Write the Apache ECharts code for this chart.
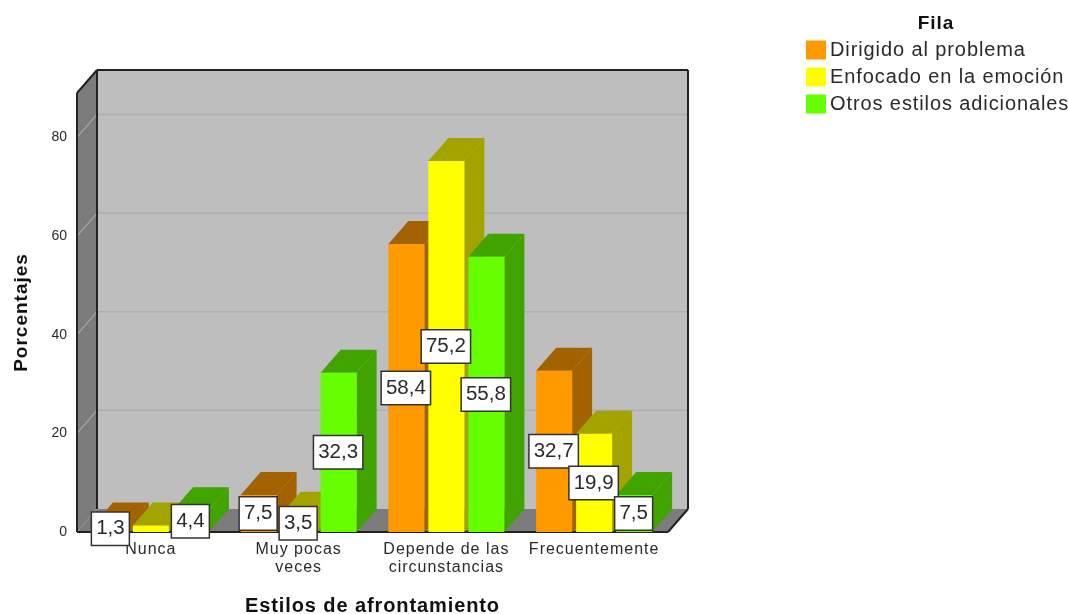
<!DOCTYPE html>
<html>
<head>
<meta charset="utf-8">
<script src="https://cdn.jsdelivr.net/npm/echarts@6/dist/echarts.min.js"></script>
<style>html,body{margin:0;padding:0;background:#fff}#c{width:1068px;height:614px}</style>
</head>
<body>
<div id="c"></div>
<script>
const categories = ['Nunca', 'Muy pocas\nveces', 'Depende de las\ncircunstancias', 'Frecuentemente'];
const dirigido = [1.3, 7.5, 58.4, 32.7];
const enfocado = [1.3, 3.5, 75.2, 19.9];
const otros = [4.4, 32.3, 55.8, 7.5];
const seriesNames = ['Dirigido al problema', 'Enfocado en la emoción', 'Otros estilos adicionales'];
const yTicks = [0, 20, 40, 60, 80];
// The reference leaves this one value label out (series index, category index).
const hiddenLabels = [[1, 0]];

// The reference's larger text is slightly letter-spaced; the canvas can do that natively.
const spacingByFontSize = { 16: '1px', 19: '1px', 20: '0.9px' };
const nativeFillText = CanvasRenderingContext2D.prototype.fillText;
CanvasRenderingContext2D.prototype.fillText = function () {
  const m = /([\d.]+)px/.exec(this.font);
  this.letterSpacing = (m && spacingByFontSize[m[1]]) || '0px';
  return nativeFillText.apply(this, arguments);
};

const FONT = '"Liberation Sans", Arial, sans-serif';
const DX = 20, DY = -23, BAR_W = 36, BAR_STEP = 40;
const colors = ['#FF9900', '#FFFF00', '#66FF00'];
const sides = ['#A36200', '#A3A300', '#41A300'];
const values = [dirigido, enfocado, otros];

function poly(points, fill) {
  return { type: 'polygon', shape: { points }, style: { fill, stroke: null } };
}
function line(a, b, stroke, w) {
  return { type: 'line', shape: { x1: a[0], y1: a[1], x2: b[0], y2: b[1] }, style: { stroke, lineWidth: w } };
}

function renderFrame(params, api) {
  const cs = params.coordSys;
  const L = cs.x, R = cs.x + cs.width, B = cs.y + cs.height, T = cs.y;
  const kids = [
    poly([[L + DX, T + DY], [R + DX, T + DY], [R + DX, B + DY], [L + DX, B + DY]], '#BEBEBE'),
    poly([[L, T], [L + DX, T + DY], [L + DX, B + DY], [L, B]], '#7C7C7C'),
    poly([[L, B], [L + DX, B + DY], [R + DX, B + DY], [R, B]], '#7C7C7C')
  ];
  yTicks.forEach(function (t) {
    const y = api.coord([0, t])[1];
    if (t === 0) return;
    kids.push(line([L + DX, y + DY], [R + DX, y + DY], '#ADADAD', 1.5));
    kids.push(line([L, y], [L + DX, y + DY], '#A6A6A6', 1.2));
  });
  const K = '#222222';
  kids.push(line([L, T], [L, B], K, 2));
  kids.push(line([L, T], [L + DX, T + DY], K, 2));
  kids.push(line([L + DX, T + DY], [R + DX, T + DY], K, 2));
  kids.push(line([L + DX, T + DY], [L + DX, B + DY], K, 2));
  kids.push(line([R + DX, T + DY], [R + DX, B + DY], K, 2));
  kids.push(line([L, B], [R, B], K, 2));
  kids.push(line([R, B], [R + DX, B + DY], K, 2));
  return { type: 'group', children: kids };
}

function barRenderer(si) {
  return function (params, api) {
    const idx = api.value(0), val = api.value(1);
    const top = api.coord([idx, val]);
    const base = api.coord([idx, 0]);
    const x0 = top[0] + (si - 1) * BAR_STEP - BAR_W / 2;
    const x1 = x0 + BAR_W;
    return {
      type: 'group',
      children: [
        poly([[x1, top[1]], [x1 + DX, top[1] + DY], [x1 + DX, base[1] + DY], [x1, base[1]]], sides[si]),
        poly([[x0, top[1]], [x0 + DX, top[1] + DY], [x1 + DX, top[1] + DY], [x1, top[1]]], sides[si]),
        { type: 'rect', shape: { x: x0, y: top[1], width: BAR_W, height: base[1] - top[1] }, style: { fill: colors[si] } }
      ]
    };
  };
}

function labelRenderer(params, api) {
  const si = api.value(0), idx = api.value(1), val = api.value(2);
  const mid = api.coord([idx, val / 2]);
  const cx = mid[0] + (si - 1) * BAR_STEP;
  return {
    type: 'text',
    x: cx - 0.5, y: mid[1],
    style: {
      text: String(val).replace('.', ','),
      font: '20.5px ' + FONT,
      fill: '#2a2a2a',
      align: 'center', verticalAlign: 'middle',
      backgroundColor: '#FFFFFF',
      borderColor: '#333333', borderWidth: 1.5,
      padding: [6, 4, 5, 4]
    }
  };
}

const labelData = [];
values.forEach(function (arr, si) {
  arr.forEach(function (v, i) {
    const hidden = hiddenLabels.some(function (h) { return h[0] === si && h[1] === i; });
    if (!hidden) labelData.push([si, i, v]);
  });
});

const chart = echarts.init(document.getElementById('c'), null, { renderer: 'canvas' });
chart.setOption({
  animation: false,
  backgroundColor: '#FFFFFF',
  title: {
    text: 'Fila', left: 936, top: 14, textAlign: 'center', padding: 0,
    textStyle: { fontFamily: FONT, fontWeight: 'bold', fontSize: 19, color: '#111' }
  },
  legend: {
    left: 806, top: 40, padding: 0, orient: 'vertical', itemWidth: 20, itemHeight: 19, itemGap: 7, selectedMode: false,
    icon: 'rect', itemStyle: { borderWidth: 0 },
    textStyle: { fontFamily: FONT, fontSize: 20, color: '#2a2a2a', padding: [0, 0, 0, -1] },
    data: seriesNames
  },
  grid: { left: 77, right: 400, top: 93, bottom: 82, outerBoundsMode: 'none' },
  xAxis: {
    type: 'category', data: categories,
    name: 'Estilos de afrontamiento', nameLocation: 'middle', nameGap: 64,
    nameTextStyle: { fontFamily: FONT, fontWeight: 'bold', fontSize: 20, color: '#111' },
    axisLine: { show: false }, axisTick: { show: false },
    axisLabel: { fontFamily: FONT, fontSize: 16, color: '#2a2a2a', margin: 9, lineHeight: 18, interval: 0 }
  },
  yAxis: {
    type: 'value', min: 0, max: 89, interval: 20,
    name: 'Porcentajes', nameLocation: 'middle', nameGap: 46, nameRotate: 90,
    nameTextStyle: { fontFamily: FONT, fontWeight: 'bold', fontSize: 19, color: '#111' },
    axisLine: { show: false }, axisTick: { show: false }, splitLine: { show: false },
    axisLabel: { fontFamily: FONT, fontSize: 14, color: '#2a2a2a', margin: 10, showMaxLabel: false }
  },
  series: [
    { type: 'custom', name: 'frame', silent: true, z: 1, renderItem: renderFrame, data: [[0, 0]], encode: { x: 0, y: 1 } },
    { type: 'custom', name: seriesNames[0], z: 2, itemStyle: { color: colors[0] }, renderItem: barRenderer(0), data: dirigido.map(function (v, i) { return [i, v]; }), encode: { x: 0, y: 1 } },
    { type: 'custom', name: seriesNames[1], z: 3, itemStyle: { color: colors[1] }, renderItem: barRenderer(1), data: enfocado.map(function (v, i) { return [i, v]; }), encode: { x: 0, y: 1 } },
    { type: 'custom', name: seriesNames[2], z: 4, itemStyle: { color: colors[2] }, renderItem: barRenderer(2), data: otros.map(function (v, i) { return [i, v]; }), encode: { x: 0, y: 1 } },
    { type: 'custom', name: 'labels', z: 5, silent: true, renderItem: labelRenderer, data: labelData, encode: { x: 1, y: 2 } }
  ]
});
</script>
</body>
</html>
